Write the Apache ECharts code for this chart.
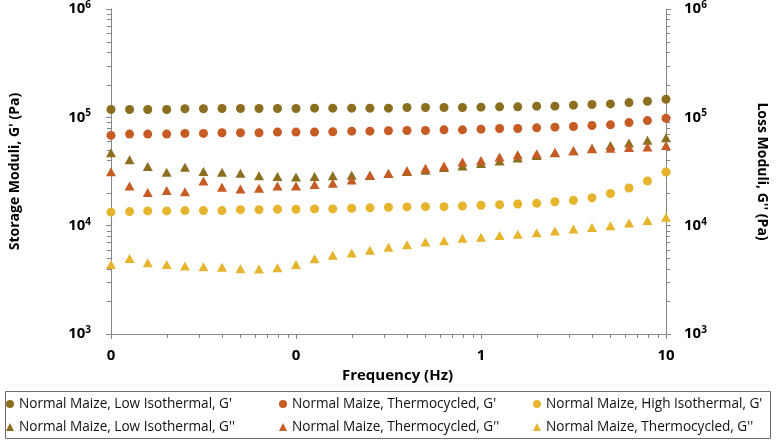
<!DOCTYPE html>
<html>
<head>
<meta charset="utf-8">
<script src="https://cdn.jsdelivr.net/npm/echarts@6/dist/echarts.min.js"></script>
<style>html,body{margin:0;padding:0;background:#fff;}#c{width:777px;height:443px;}</style>
</head>
<body>
<div id="c"></div>
<script>
// Frequency (Hz)
var freq = [0.01,0.0126,0.0158,0.02,0.0251,0.0316,0.0398,0.0501,0.0631,0.0794,
            0.1,0.126,0.158,0.2,0.251,0.316,0.398,0.501,0.631,0.794,
            1,1.26,1.58,2,2.51,3.16,3.98,5.01,6.31,7.94,10];
// Storage moduli G' (Pa)
var lowIsoG1 = [118000,118000,118000,118000,119900,119900,120700,120700,120700,120700,
                120700,121600,121600,121600,121600,121600,123300,123300,123300,123300,
                124100,125000,125000,126800,126800,129500,131300,133100,136800,140700,146800];
var thermoG1 = [68100,70050,70050,70050,71030,71030,72030,72030,72030,73040,
                73040,73040,73550,74580,74580,75100,75630,75630,76690,76690,
                77780,78870,78870,79980,81100,82260,84000,85200,89430,93260,97950];
var highIsoG1 = [13320,13490,13690,13690,13770,13770,13770,14060,14060,14190,
                 14190,14270,14270,14480,14600,14790,14890,14980,14980,15200,
                 15420,15620,15850,16080,16630,17120,18080,19830,22290,25820,31290];
// Loss moduli G'' (Pa)
var lowIsoG2 = [47070,40640,35120,31160,34600,31620,31160,30510,28900,28480,
                28180,28480,28900,29270,29000,30320,31620,32520,34340,35620,
                37390,39530,42120,44460,47070,49100,51940,54830,58010,61380,64860];
var thermoG2 = [31420,23250,20250,21110,20510,25830,22620,21830,22150,23250,
                23250,23930,24610,26370,29270,30320,32100,33900,35620,38730,
                40000,43060,45130,46090,47370,49100,51170,51940,52600,53330,54830];
var thermoG2b = [4392,4979,4540,4392,4237,4178,4125,4006,3981,4094,
                 4392,4939,5336,5600,5925,6310,6675,7050,7258,7665,
                 7827,8111,8340,8582,8951,9336,9594,10000,10580,11170,11990];
// Minor tick values
var xMinor = [0.02,0.03,0.04,0.05,0.06,0.07,0.08,0.09,0.2,0.3,0.4,0.5,0.6,0.7,0.8,0.9,2,3,4,5,6,7,8,9];
var yMinor = [2000,3000,4000,5000,6000,7000,8000,9000,20000,30000,40000,50000,60000,70000,80000,90000,
              200000,300000,400000,500000,600000,700000,800000,900000];

var names = ["Normal Maize, Low Isothermal, G'", "Normal Maize, Thermocycled, G'", "Normal Maize, High Isothermal, G'",
             "Normal Maize, Low Isothermal, G''", "Normal Maize, Thermocycled, G''", "Normal Maize, Thermocycled, G'' "];
var OLIVE = '#8b6e1f', ORANGE = '#c75b24', YELLOW = '#e6b42d';
var AX = '#868686';
var FONT = 'Open Sans';

function pairs(vals){ return freq.map(function(f,i){ return [f, vals[i]]; }); }
function sc(name, vals, color, sym, yi){
  return { type:'scatter', name:name, data:pairs(vals), yAxisIndex:yi,
    symbol:sym, symbolSize: sym==='triangle' ? [10,9] : 9,
    itemStyle:{color:color, opacity:1}, z:3, silent:true };
}
function supLabel(margin){
  return { margin:margin,
  formatter: function(v){ return '{b|10}{s|' + Math.round(Math.log10(v)) + '}'; },
  rich: { b:{fontFamily:FONT,fontWeight:'bold',fontSize:15,color:'#000',lineHeight:18},
          s:{fontFamily:FONT,fontWeight:'bold',fontSize:10,color:'#000',lineHeight:11,verticalAlign:'top'} } };
}
function yAx(pos, name, rot, margin){
  return { type:'log', logBase:10, min:1000, max:1000000, position:pos,
    name:name, nameLocation:'middle', nameGap:89, nameRotate:rot,
    nameTextStyle:{fontFamily:FONT,fontWeight:'bold',fontSize:14,color:'#000'},
    axisLine:{show:true,lineStyle:{color:AX,width:1}},
    axisTick:{show:true,inside:false,length:5,lineStyle:{color:AX}},
    minorTick:{show:false}, splitLine:{show:false},
    axisLabel:supLabel(margin) };
}
var chart = echarts.init(document.getElementById('c'), null, {renderer:'canvas'});
chart.setOption({
  animation:false,
  backgroundColor:'#fff',
  grid:{left:104, right:104, top:4, bottom:109},
  xAxis:{ type:'log', logBase:10, min:0.01, max:10,
    name:'Frequency (Hz)', nameLocation:'middle', nameGap:27,
    nameTextStyle:{fontFamily:FONT,fontWeight:'bold',fontSize:15,color:'#000',padding:[0,0,0,18]},
    axisLine:{show:true,lineStyle:{color:AX,width:1}},
    axisTick:{show:true,length:5,lineStyle:{color:AX}},
    splitLine:{show:false}, minorTick:{show:false},
    axisLabel:{margin:14,fontFamily:FONT,fontWeight:'bold',fontSize:15,color:'#000',
      formatter:function(v){ return String(Math.round(v)); }} },
  yAxis:[ yAx('left', "Storage Moduli, G' (Pa)", 90, 20), yAx('right', "Loss Moduli, G'' (Pa)", -90, 18) ],
  legend:[0,1,2].map(function(c){
    var lefts=[6,279,533];
    return { orient:'vertical', left:lefts[c], top:396, padding:0, itemWidth:8, itemHeight:8, itemGap:7,
      selectedMode:false,
      textStyle:{fontFamily:FONT,fontSize:13.6,color:'#111',lineHeight:16},
      data:[{name:names[c],icon:'circle'},{name:names[c+3],icon:'triangle'}] };
  }),
  graphic:[{type:'rect', shape:{x:5.5,y:391.5,width:765,height:47},
    style:{fill:'none',stroke:'#6e6e6e',lineWidth:1}, silent:true}],
  series:[
    sc(names[0], lowIsoG1, OLIVE, 'circle', 0),
    sc(names[1], thermoG1, ORANGE, 'circle', 0),
    sc(names[2], highIsoG1, YELLOW, 'circle', 0),
    sc(names[3], lowIsoG2, OLIVE, 'triangle', 1),
    sc(names[4], thermoG2, ORANGE, 'triangle', 1),
    sc(names[5], thermoG2b, YELLOW, 'triangle', 1),
    { type:'custom', name:'xminor', silent:true, z:1, clip:false,
      data: xMinor.map(function(v){ return [v, 1000]; }),
      encode:{x:0,y:1},
      renderItem:function(p, api){
        var pt = api.coord([api.value(0), 1000]);
        var x = Math.round(pt[0]) + 0.5, y = Math.round(pt[1]);
        return {type:'line', shape:{x1:x,y1:y,x2:x,y2:y+4}, style:{stroke:AX,lineWidth:1}};
      } },
    { type:'custom', name:'yminor', silent:true, z:1, clip:false,
      data: yMinor.map(function(v){ return [0.01, v]; }),
      encode:{x:0,y:1},
      renderItem:function(p, api){
        var v = api.value(1);
        var a = api.coord([0.01, v]), b = api.coord([10, v]);
        var ya = Math.round(a[1]) + 0.5;
        var xa = Math.round(a[0]), xb = Math.round(b[0]);
        return {type:'group', children:[
          {type:'line', shape:{x1:xa-4,y1:ya,x2:xa,y2:ya}, style:{stroke:AX,lineWidth:1}},
          {type:'line', shape:{x1:xb,y1:ya,x2:xb+4,y2:ya}, style:{stroke:AX,lineWidth:1}}
        ]};
      } }
  ]
});
</script>
</body>
</html>
